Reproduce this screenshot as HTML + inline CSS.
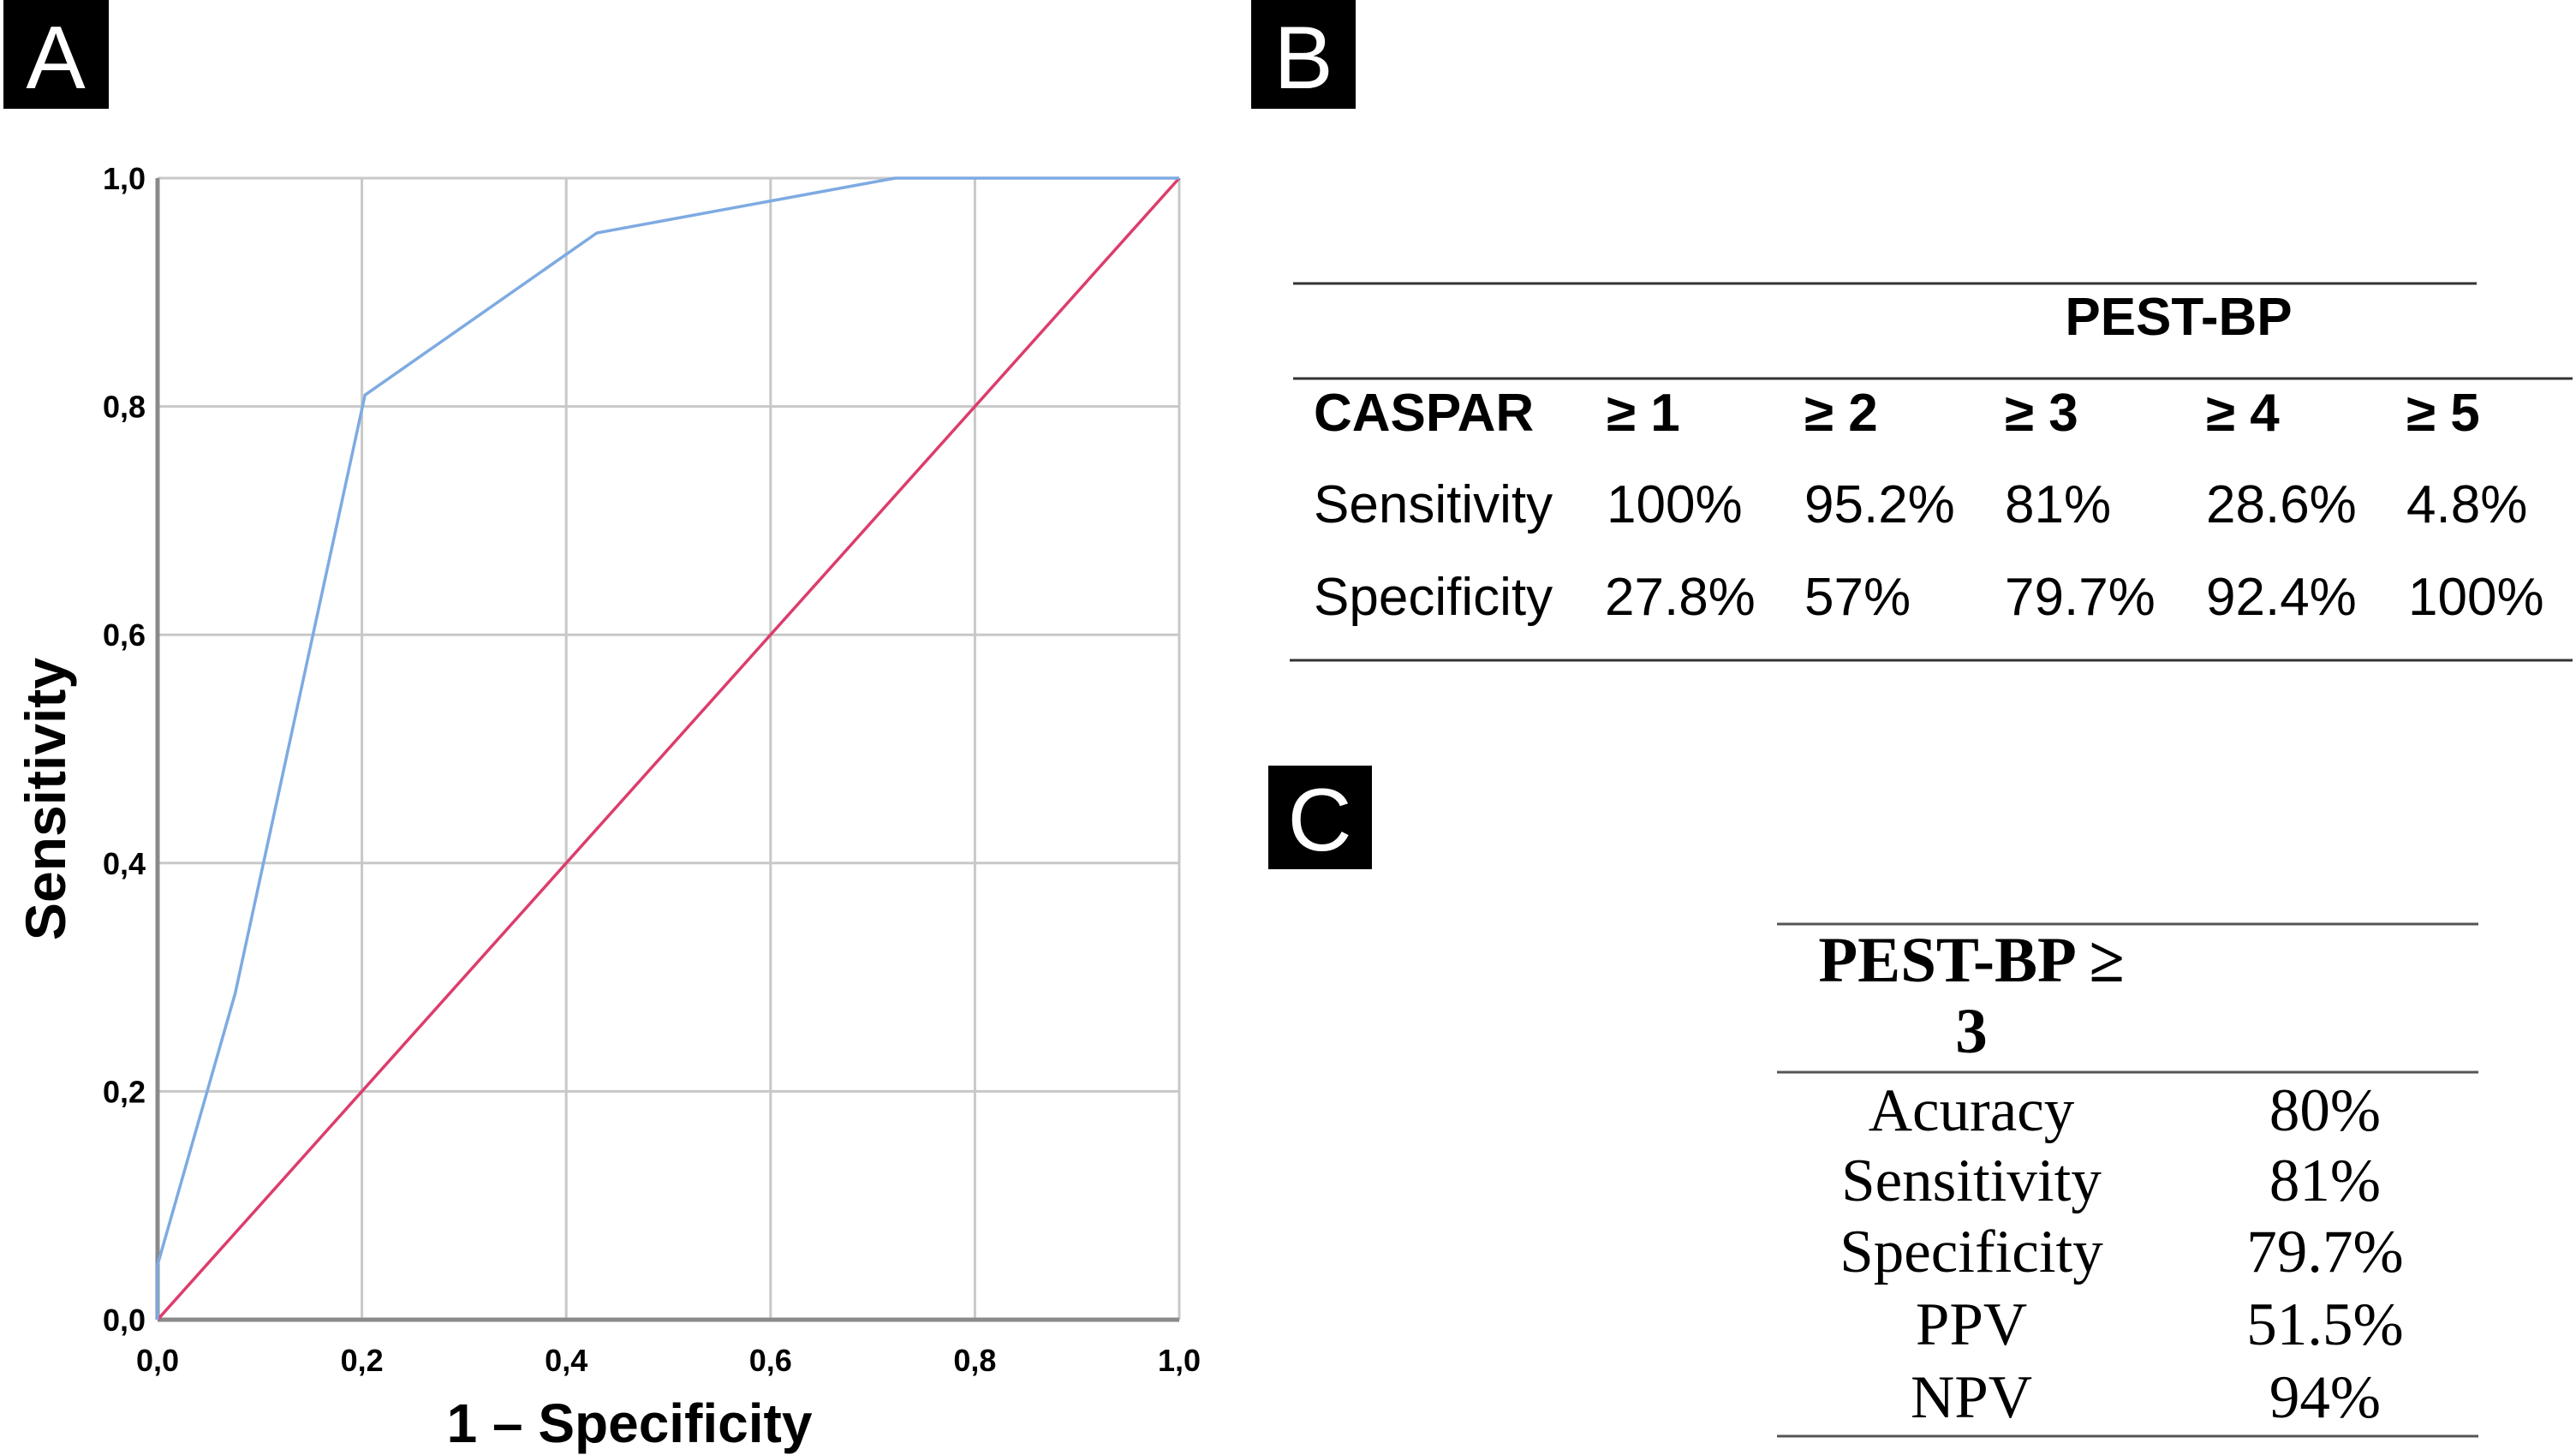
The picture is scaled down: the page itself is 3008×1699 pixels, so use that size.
<!DOCTYPE html>
<html><head><meta charset="utf-8"><style>
html,body{margin:0;padding:0;background:#fff;}
svg{display:block;}
</style></head><body>
<svg id="root" width="3008" height="1699" viewBox="0 0 3008 1699" xmlns="http://www.w3.org/2000/svg">
<g>
<rect x="4" y="0" width="123" height="127" fill="#000"/>
<text x="65" y="103" font-family="Liberation Sans, sans-serif" font-size="104" fill="#fff" text-anchor="middle">A</text>
<g id="chart"></g>
<text x="735" y="1684" font-family="Liberation Sans, sans-serif" font-size="64" font-weight="bold" text-anchor="middle">1 – Specificity</text>
<text transform="translate(76,933) rotate(-90)" font-family="Liberation Sans, sans-serif" font-size="66" font-weight="bold" text-anchor="middle">Sensitivity</text>
</g>

<g>
<rect x="1461" y="0" width="122" height="127" fill="#000"/>
<text x="1522" y="103" font-family="Liberation Sans, sans-serif" font-size="104" fill="#fff" text-anchor="middle">B</text>
<line x1="1510" y1="331" x2="2892" y2="331" stroke="#333" stroke-width="3"/>
<line x1="1510" y1="442" x2="3004" y2="442" stroke="#333" stroke-width="3"/>
<line x1="1506" y1="771" x2="3004" y2="771" stroke="#333" stroke-width="3"/>
<g font-family="Liberation Sans, sans-serif" font-size="62">
<text x="2544" y="391" font-weight="bold" text-anchor="middle">PEST-BP</text>
<g font-weight="bold">
<text x="1534" y="503">CASPAR</text>
<text x="1876" y="503">≥ 1</text>
<text x="2107" y="503">≥ 2</text>
<text x="2341" y="503">≥ 3</text>
<text x="2576" y="503">≥ 4</text>
<text x="2810" y="503">≥ 5</text>
</g>
<g>
<text x="1534" y="610">Sensitivity</text>
<text x="1876" y="610">100%</text>
<text x="2107" y="610">95.2%</text>
<text x="2341" y="610">81%</text>
<text x="2576" y="610">28.6%</text>
<text x="2810" y="610">4.8%</text>
</g>
<g>
<text x="1534" y="718">Specificity</text>
<text x="1874" y="718">27.8%</text>
<text x="2107" y="718">57%</text>
<text x="2341" y="718">79.7%</text>
<text x="2576" y="718">92.4%</text>
<text x="2812" y="718">100%</text>
</g>
</g>
</g>

<g>
<rect x="1481" y="894" width="121" height="121" fill="#000"/>
<text x="1541" y="993" font-family="Liberation Sans, sans-serif" font-size="104" fill="#fff" text-anchor="middle">C</text>
<line x1="2075" y1="1079" x2="2894" y2="1079" stroke="#555" stroke-width="3"/>
<line x1="2075" y1="1252" x2="2894" y2="1252" stroke="#555" stroke-width="3"/>
<line x1="2075" y1="1677" x2="2894" y2="1677" stroke="#555" stroke-width="3"/>
<g font-family="Liberation Serif, serif" font-size="71" text-anchor="middle">
<text x="2302" y="1146" font-size="75" font-weight="bold">PEST-BP ≥</text>
<text x="2302" y="1229" font-size="75" font-weight="bold">3</text>
<text x="2302" y="1320">Acuracy</text>
<text x="2715" y="1320">80%</text>
<text x="2302" y="1402">Sensitivity</text>
<text x="2715" y="1402">81%</text>
<text x="2302" y="1485">Specificity</text>
<text x="2715" y="1485">79.7%</text>
<text x="2302" y="1570">PPV</text>
<text x="2715" y="1570">51.5%</text>
<text x="2302" y="1655">NPV</text>
<text x="2715" y="1655">94%</text>
</g>
</g>
</svg>
<script>
const rocFpr = [0, 0, 0.076, 0.203, 0.43, 0.722, 1.0];
const rocTpr = [0, 0.048, 0.286, 0.81, 0.952, 1.0, 1.0];
const refX = [0, 1];
const refY = [0, 1];
const tickValues = [0, 0.2, 0.4, 0.6, 0.8, 1.0];
const tickLabels = ["0,0", "0,2", "0,4", "0,6", "0,8", "1,0"];

const X0 = 184, X1 = 1377, Y0 = 1541, Y1 = 208;
function sx(v){ return X0 + v * (X1 - X0); }
function sy(v){ return Y0 - v * (Y0 - Y1); }
const NS = "http://www.w3.org/2000/svg";
const g = document.getElementById('chart');
function mk(tag, attrs){ const e = document.createElementNS(NS, tag); for (const k in attrs) e.setAttribute(k, attrs[k]); g.appendChild(e); return e; }

tickValues.forEach((v, i) => {
  if (i > 0) {
    const gx = mk('line', {x1: sx(v), y1: Y1, x2: sx(v), y2: Y0, stroke: '#c8c8c8', 'stroke-width': 3});
    
    
    const gy = mk('line', {x1: X0, y1: sy(v), x2: X1, y2: sy(v), stroke: '#c8c8c8', 'stroke-width': 3});
    
    
  }
  const tx = mk('text', {x: sx(v), y: sy(0) + 60, 'text-anchor': 'middle', 'font-family': 'Liberation Sans, sans-serif', 'font-size': 36, 'font-weight': 'bold', fill: '#000'});
  tx.textContent = tickLabels[i];
  
  
  const ty = mk('text', {x: X0 - 14, y: sy(v) + 13, 'text-anchor': 'end', 'font-family': 'Liberation Sans, sans-serif', 'font-size': 36, 'font-weight': 'bold', fill: '#000'});
  ty.textContent = tickLabels[i];
  
  
});
const ax = mk('line', {x1: X0, y1: Y1, x2: X0, y2: Y0, stroke: '#8a8a8a', 'stroke-width': 5});


const ay = mk('line', {x1: X0, y1: Y0, x2: X1, y2: Y0, stroke: '#8a8a8a', 'stroke-width': 5});



const ref = mk('polyline', {points: refX.map((x, i) => sx(x) + ',' + sy(refY[i])).join(' '), fill: 'none', stroke: '#dc3d6c', 'stroke-width': 3.5});


const roc = mk('polyline', {points: rocFpr.map((x, i) => sx(x) + ',' + sy(rocTpr[i])).join(' '), fill: 'none', stroke: '#7eaae2', 'stroke-width': 3.5});


</script>
</body></html>
